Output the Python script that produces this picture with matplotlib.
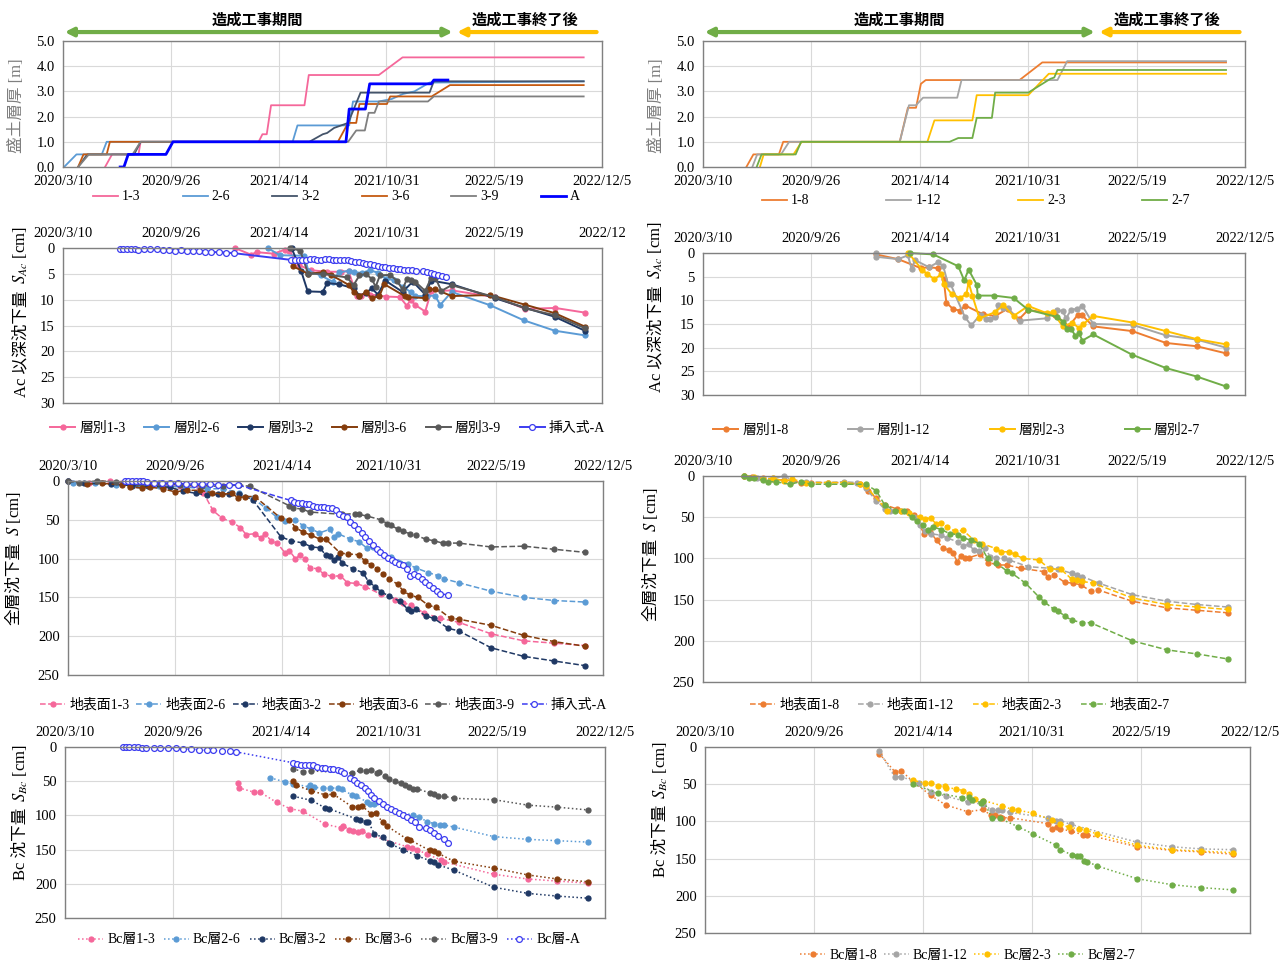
import datetime as dt
import matplotlib
matplotlib.use("Agg")
import matplotlib.pyplot as plt
from matplotlib.ticker import FormatStrFormatter
import numpy as np

plt.rcParams['font.family'] = ['Liberation Serif', 'Noto Sans CJK JP']
plt.rcParams['mathtext.fontset'] = 'stix'

W, H = 1287, 961
start = dt.date(2020, 3, 10)
tick_days = [0, 200, 400, 600, 800, 1000]
tick_labels = []
for d in tick_days:
    t = start + dt.timedelta(days=d)
    tick_labels.append(f"{t.year}/{t.month}/{t.day}")
construction_end = 723   # days after 2020/3/10

# ---- fill thickness [m]  (day, value) ----
fill_13 = [(78,0),(91,0.5),(140,0.5),(144,1.0),(363,1.0),(370,1.3),(378,1.3),(386,2.45),(448,2.45),(456,3.65),(586,3.65),(630,4.35),(966,4.35)]
fill_26 = [(2,0),(25,0.5),(72,0.5),(81,1.0),(426,1.0),(435,1.65),(531,1.65),(538,2.6),(586,2.6),(610,2.7),(631,2.9),(652,3.0),(680,3.35),(966,3.4)]
fill_32 = [(28,0),(45,0.5),(132,0.5),(144,1.0),(457,1.0),(482,1.3),(490,1.35),(503,1.55),(529,1.75),(552,2.95),(680,2.95),(688,3.4),(966,3.4)]
fill_36 = [(28,0),(38,0.5),(81,0.5),(87,1.0),(510,1.0),(529,1.75),(544,1.75),(550,2.5),(601,2.5),(607,2.8),(684,2.8),(718,3.25),(966,3.25)]
fill_39 = [(28,0),(48,0.5),(129,0.5),(144,1.0),(529,1.0),(544,1.45),(560,1.45),(567,2.15),(578,2.15),(586,2.6),(677,2.6),(688,2.8),(966,2.8)]
fill_A = [(106,0),(113,0),(121,0.5),(191,0.5),(204,1.0),(525,1.0),(531,2.3),(561,2.3),(569,3.3),(683,3.3),(688,3.45),(714,3.45)]
fill_18 = [(80,0),(93,0.5),(140,0.5),(148,1.0),(363,1.0),(378,2.35),(393,2.35),(402,3.3),(411,3.45),(584,3.45),(626,4.15),(965,4.15)]
fill_112 = [(91,0),(100,0.5),(144,0.5),(159,1.0),(363,1.0),(380,2.45),(393,2.45),(406,2.75),(469,2.75),(477,3.45),(654,3.45),(672,4.2),(965,4.2)]
fill_23 = [(105,0),(112,0.5),(167,0.5),(182,1.0),(414,1.0),(427,1.85),(497,1.85),(505,2.85),(600,2.85),(638,3.7),(965,3.7)]
fill_27 = [(99,0),(108,0.5),(171,0.5),(181,1.0),(455,1.0),(471,1.15),(497,1.15),(505,1.95),(533,1.95),(539,2.95),(600,2.95),(641,3.5),(648,3.55),(654,3.85),(965,3.85)]

# ---- settlement below Ac [cm] ----
ac_13 = [(319,0.0),(349,1.3),(359,0.8),(391,1.1),(412,0.3),(420,0.6),(437,3.3),(460,4.3),(490,4.6),(515,4.6),(530,4.5),(545,9.3),(553,9.2),(570,9.0),(600,9.4),(625,9.5),(638,11.2),(645,10.0),(653,11.0),(672,12.3),(683,8.4),(721,8.2),(801,9.5),(858,11.8),(913,11.6),(968,12.5)]
ac_26 = [(380,0.0),(402,1.4),(448,1.5),(455,4.4),(478,5.3),(500,6.5),(512,4.7),(531,4.4),(539,4.7),(555,4.8),(569,4.3),(585,4.8),(600,6.0),(615,6.2),(630,7.5),(645,8.5),(653,9.3),(675,9.3),(690,9.2),(700,11.0),(721,8.5),(793,11.1),(855,14.0),(912,16.0),(968,16.9)]
ac_32 = [(424,0.0),(442,4.5),(454,8.4),(482,8.5),(490,6.8),(512,7.0),(539,7.8),(550,9.2),(562,8.7),(573,7.8),(584,9.0),(598,6.3),(630,8.5),(649,6.5),(672,9.0),(683,6.3),(721,7.0),(801,9.7),(858,11.6),(912,13.3),(968,16.0)]
ac_36 = [(426,3.5),(455,5.0),(482,4.7),(497,5.2),(531,7.2),(539,8.5),(550,9.3),(562,8.6),(573,9.7),(587,9.3),(596,7.0),(634,9.3),(641,9.5),(672,9.7),(679,8.0),(691,8.0),(721,9.3),(793,9.1),(858,11.0),(912,12.6),(968,15.2)]
ac_39 = [(421,0.0),(440,0.5),(455,5.0),(482,5.0),(527,5.7),(539,7.2),(550,5.3),(562,5.0),(573,6.0),(580,7.5),(588,5.3),(607,5.2),(619,6.3),(630,8.0),(638,6.0),(645,6.2),(653,6.5),(672,8.3),(683,5.8),(691,5.8),(702,8.3),(721,7.2),(801,9.5),(858,11.7),(912,13.0),(968,15.5)]
ac_A = [(105,0.1),(112,0.1),(119,0.1),(126,0.2),(133,0.2),(140,0.3),(150,0.2),(162,0.2),(175,0.2),(186,0.3),(197,0.3),(208,0.5),(219,0.4),(230,0.5),(241,0.6),(252,0.6),(263,0.7),(275,0.8),(290,0.8),(303,0.9),(317,1.0),
        (423,2.3),(430,2.3),(437,2.3),(444,2.3),(451,2.3),(458,2.2),(465,2.2),(472,2.3),(479,2.3),(486,2.2),(493,2.2),(500,2.3),(507,2.4),(514,2.3),(521,2.3),(528,2.4),(535,2.5),(542,2.7),(549,2.8),(556,2.9),(563,3.0),(570,3.1),(577,3.3),(584,3.5),(591,3.6),(598,3.7),(605,3.8),(612,3.9),(619,4.0),(626,4.1),(633,4.2),(640,4.3),(647,4.3),(654,4.5),(668,4.5),(675,4.6),(682,4.8),(689,5.0),(696,5.2),(703,5.4),(710,5.6)]
ac_18 = [(319,0.3),(360,1.3),(402,3.2),(417,3.0),(433,3.2),(444,5.5),(449,10.5),(461,11.8),(474,12.2),(484,11.1),(516,12.9),(539,13.3),(562,11.8),(583,14.0),(600,12.0),(649,13.0),(675,15.5),(692,13.0),(700,13.2),(720,15.5),(792,16.5),(854,19.0),(911,19.7),(965,21.2)]
ac_112 = [(319,0.0),(320,0.8),(360,1.3),(378,0.5),(385,3.4),(391,1.5),(417,3.0),(433,2.0),(443,2.7),(452,6.5),(457,6.6),(483,13.5),(495,15.3),(512,13.0),(522,14.0),(530,14.0),(539,13.5),(545,11.0),(554,11.7),(562,11.6),(584,14.3),(634,13.8),(653,12.0),(664,12.3),(670,13.8),(679,12.0),(690,11.8),(700,11.2),(720,15.0),(793,15.2),(854,17.4),(911,18.3),(965,20.0)]
ac_23 = [(379,0.0),(404,3.5),(414,4.5),(427,5.5),(440,4.5),(444,6.5),(459,8.7),(474,9.5),(486,8.7),(490,6.2),(497,9.0),(510,13.8),(539,12.5),(554,11.0),(573,13.3),(600,11.2),(634,12.7),(645,12.5),(664,15.5),(681,14.8),(694,15.8),(702,15.0),(720,13.3),(793,14.7),(854,16.5),(911,18.2),(965,19.3)]
ac_27 = [(381,0.0),(425,0.3),(471,2.8),(482,5.8),(490,3.5),(505,6.7),(507,9.0),(537,9.0),(573,9.5),(600,12.0),(653,13.5),(664,14.5),(672,16.0),(679,16.0),(687,17.5),(694,17.0),(700,18.5),(720,17.2),(792,21.5),(854,24.3),(911,26.1),(965,28.2)]

# ---- total settlement S [cm] ----
s_13 = [(0,0),(40,2),(78,0),(100,3),(140,4),(180,6),(210,7),(245,8),(253,15),(271,38),(288,48),(307,53),(322,60),(333,69),(349,68),(360,73),(369,68),(379,77),(391,80),(406,93),(414,90),(425,100),(433,96),(443,100),(452,112),(467,113),(478,120),(494,123),(509,122),(522,131),(539,132),(555,136),(585,146),(612,153),(627,157),(642,160),(665,170),(696,177),(730,182),(791,197),(852,206),(909,209),(967,212)]
s_26 = [(0,0),(10,2),(50,3),(90,5),(130,5),(170,6),(220,8),(260,10),(290,10),(320,15),(345,22),(370,35),(391,47),(406,52),(425,50),(440,58),(455,62),(470,67),(490,62),(497,72),(505,68),(528,75),(543,78),(558,86),(570,85),(604,98),(635,107),(650,112),(673,118),(692,122),(703,126),(730,131),(791,142),(852,150),(909,154),(967,156)]
s_32 = [(0,0),(30,3),(80,4),(120,6),(150,7),(190,8),(215,13),(240,16),(260,18),(280,17),(300,17),(320,17),(345,24),(398,72),(417,77),(440,80),(455,85),(471,86),(482,96),(490,97),(497,102),(505,98),(513,106),(532,113),(551,118),(562,130),(574,136),(585,143),(600,148),(620,155),(635,165),(642,168),(650,165),(669,174),(684,177),(711,190),(730,193),(791,215),(852,226),(909,232),(967,238)]
s_36 = [(36,4),(63,3),(100,5),(116,8),(139,9),(154,8),(177,10),(200,14),(222,12),(246,12),(269,15),(288,17),(307,16),(318,22),(330,20),(349,20),(398,48),(414,50),(425,60),(440,66),(455,70),(471,75),(482,75),(509,93),(524,94),(543,95),(555,103),(566,108),(578,113),(589,120),(600,126),(616,133),(627,142),(639,147),(654,150),(673,160),(688,163),(715,177),(730,178),(791,186),(852,199),(909,207),(967,213)]
s_39 = [(0,0),(20,2),(55,0),(90,1),(130,2),(170,3),(210,5),(250,6),(290,7),(320,5),(340,7),(414,32),(421,35),(437,36),(452,40),(513,43),(536,42),(543,43),(558,45),(585,50),(597,55),(604,57),(616,62),(627,65),(639,68),(650,70),(669,75),(684,77),(700,80),(711,80),(730,80),(791,85),(852,84),(909,88),(967,92)]
s_A = [(107,0),(113,0),(120,0),(127,0),(134,0),(141,0),(148,1),(160,2),(175,2),(190,3),(205,3),(220,4),(235,4),(250,4),(265,4),(280,5),(300,5),(318,5),
       (416,25),(423,27),(430,28),(437,28),(444,29),(451,30),(458,32),(465,33),(472,34),(479,34),(486,35),(493,35),(500,38),(507,42),(514,45),(521,47),(528,53),(535,57),(542,62),(549,67),(556,72),(563,77),(570,83),(577,88),(584,92),(591,96),(598,99),(605,102),(612,105),(619,107),(626,108),(633,113),(640,122),(647,120),(654,122),(661,126),(668,130),(675,134),(682,138),(689,142),(696,145),(710,147)]
s_18 = [(76,0),(90,1),(110,2),(130,4),(150,5),(165,6),(180,8),(200,8),(230,8),(260,8),(290,10),(305,18),(320,27),(335,35),(358,40),(377,42),(389,47),(408,70),(419,68),(431,78),(442,87),(453,90),(461,93),(469,104),(476,97),(484,100),(491,99),(511,95),(526,105),(545,108),(560,108),(587,112),(629,116),(636,123),(648,120),(667,129),(682,130),(697,132),(716,140),(728,138),(792,152),(856,160),(912,163),(968,166)]
s_112 = [(76,0),(100,2),(130,3),(150,0),(165,5),(190,7),(230,8),(260,7),(285,8),(300,15),(320,30),(335,40),(345,43),(365,42),(390,50),(400,60),(410,67),(420,70),(440,72),(450,75),(470,80),(480,85),(490,83),(500,90),(510,91),(520,87),(530,98),(540,99),(555,100),(565,102),(600,110),(640,112),(655,113),(680,118),(690,120),(700,122),(730,130),(792,144),(856,152),(912,156),(968,159)]
s_23 = [(76,0),(95,1),(110,4),(130,3),(150,6),(165,4),(190,8),(230,8),(260,8),(290,10),(300,12),(340,42),(365,42),(380,45),(400,50),(410,52),(420,51),(430,58),(440,57),(450,62),(465,67),(480,66),(500,78),(515,82),(540,88),(550,92),(565,92),(575,95),(590,100),(620,102),(640,113),(660,113),(680,125),(690,126),(700,128),(720,130),(792,148),(856,156),(912,159),(968,162)]
s_27 = [(76,0),(85,2),(95,3),(110,5),(120,7),(135,7),(160,10),(180,7),(200,10),(230,10),(260,10),(300,10),(320,18),(335,35),(355,42),(370,42),(385,50),(395,55),(405,60),(415,65),(425,62),(440,65),(455,70),(470,71),(480,75),(495,78),(510,82),(525,100),(540,105),(560,115),(570,118),(595,130),(620,147),(630,153),(648,162),(655,164),(668,170),(680,175),(700,178),(715,178),(792,200),(856,211),(912,216),(968,222)]

# ---- Bc settlement [cm] ----
bc_13 = [(320,53),(323,60),(350,66),(361,66),(392,81),(416,90),(441,94),(482,113),(511,118),(515,115),(526,121),(534,123),(543,124),(550,123),(562,128),(634,146),(643,148),(652,150),(671,157),(696,165),(702,168),(794,186),(857,193),(912,196),(968,199)]
bc_26 = [(380,45),(407,51),(422,54),(451,58),(454,56),(462,59),(477,60),(490,60),(505,60),(513,62),(531,70),(539,72),(559,80),(565,84),(573,83),(645,100),(656,103),(671,109),(683,112),(694,114),(702,114),(720,117),(794,131),(857,135),(912,137),(968,139)]
bc_32 = [(423,72),(456,78),(482,89),(488,90),(539,105),(547,107),(558,110),(562,110),(573,127),(588,132),(600,140),(603,142),(626,150),(652,159),(675,166),(683,168),(690,172),(720,180),(794,205),(857,214),(912,218),(968,221)]
bc_36 = [(422,49),(428,56),(456,64),(482,70),(497,69),(531,87),(543,87),(550,86),(567,98),(575,96),(588,110),(597,116),(634,135),(639,136),(675,151),(683,152),(690,155),(720,167),(794,177),(857,187),(912,193),(968,197)]
bc_39 = [(422,32),(441,36),(456,35),(531,38),(547,34),(558,35),(567,34),(577,38),(581,37),(592,43),(600,47),(611,50),(622,53),(630,55),(637,59),(645,62),(652,61),(675,67),(683,68),(690,72),(702,72),(720,75),(794,77),(857,85),(912,88),(968,92)]
bc_A = [(107,0),(113,0),(119,0),(127,0),(135,0),(142,1),(150,1),(165,1),(176,1),(191,2),(206,2),(219,3),(233,3),(248,4),(263,5),(274,5),(290,6),(305,6),(316,7),
        (422,23),(429,25),(437,26),(444,26),(452,26),(460,27),(467,29),(475,30),(482,31),(490,32),(497,32),(505,33),(511,35),(516,38),(528,45),(535,48),(541,52),(549,56),(556,60),(562,65),(567,70),(573,74),(581,79),(588,84),(596,87),(603,90),(611,93),(618,97),(626,100),(634,103),(641,106),(649,109),(655,117),(668,119),(675,122),(683,126),(690,130),(702,135),(709,140)]
bc_18 = [(320,9),(348,33),(360,32),(381,46),(414,65),(442,78),(482,87),(511,84),(524,92),(532,91),(541,94),(545,95),(559,95),(629,103),(636,110),(645,107),(652,110),(671,113),(694,118),(701,118),(793,134),(856,139),(911,141),(968,144)]
bc_112 = [(320,6),(348,40),(360,40),(392,48),(415,60),(442,66),(482,74),(511,77),(526,85),(537,85),(545,85),(559,88),(629,95),(644,99),(652,99),(671,104),(793,128),(856,134),(911,137),(968,138)]
bc_23 = [(381,45),(404,48),(415,48),(427,52),(440,53),(442,55),(461,56),(474,59),(484,63),(495,70),(511,72),(545,79),(564,84),(575,85),(602,89),(636,98),(652,103),(667,108),(687,110),(699,112),(720,117),(793,132),(856,138),(911,140),(968,142)]
bc_27 = [(381,50),(427,62),(472,68),(484,67),(490,71),(507,75),(511,72),(526,95),(541,96),(574,107),(602,117),(644,132),(652,138),(673,145),(682,146),(688,147),(696,153),(701,154),(720,160),(793,177),(856,185),(911,189),(968,192)]

PINK, LBLUE, NAVY, BROWN, DGRAY, BLUE = '#F5679A', '#5B9BD5', '#1F3864', '#843C0C', '#595959', '#3C3CF0'
ORANGE, LGRAY, YELLOW, GREEN = '#ED7D31', '#A5A5A5', '#FFC000', '#70AD47'

fig = plt.figure(figsize=(W / 100, H / 100), dpi=100)


def axes_px(x0, y0, x1, y1):
    return fig.add_axes([x0 / W, 1 - y1 / H, (x1 - x0) / W, (y1 - y0) / H])


def setup(ax, ymax, ystep, fmt, top=True, xlabels=tick_labels):
    ax.set_xlim(0, 1000)
    ax.set_xticks(tick_days)
    ax.set_xticklabels(xlabels)
    ax.set_yticks(np.arange(0, ymax + ystep / 2, ystep))
    ax.yaxis.set_major_formatter(FormatStrFormatter(fmt))
    if top:
        ax.set_ylim(ymax, 0)
        ax.xaxis.tick_top()
    else:
        ax.set_ylim(0, ymax)
    ax.grid(True, color='#D9D9D9', lw=0.8)
    ax.set_axisbelow(True)
    ax.tick_params(length=0, labelsize=10.5, pad=6)
    for s in ax.spines.values():
        s.set_color('#808080')
        s.set_linewidth(1.0)


def draw(ax, series, ls, lw, marker):
    for pts, label, color, hollow in series:
        d, v = np.array(pts, dtype=float).T
        kw = dict(ls=ls, lw=lw, color=color, label=label, clip_on=False)
        if marker:
            kw.update(marker='o', ms=4.2 if hollow else 3.6,
                      mfc='white' if hollow else color, mec=color, mew=0.9)
        ax.plot(d, v, **kw)


def legend(ax, x0, x1, y, ncol):
    ax.legend(loc='center', bbox_to_anchor=(x0 / W, 1 - y / H, (x1 - x0) / W, 0),
              bbox_transform=fig.transFigure, ncol=ncol, mode='expand', frameon=False,
              fontsize=10, handlelength=1.8, handletextpad=0.3, borderaxespad=0, borderpad=0)


def ylabel(x, ysplit, jp, math=None, color='black', size=12):
    if math is None:
        fig.text(x / W, 1 - ysplit / H, jp, rotation=90, ha='center', va='center',
                 color=color, fontsize=size)
        return
    fig.text(x / W, 1 - ysplit / H, jp, rotation=90, ha='center', va='top', color=color, fontsize=size)
    fig.text(x / W, 1 - (ysplit - 6) / H, math, rotation=90, ha='center', va='bottom', color=color, fontsize=size)


def header(ax):
    tr = ax.get_xaxis_transform()
    ax.annotate('', xy=(3, 1.071), xytext=(construction_end, 1.071), xycoords=tr, textcoords=tr,
                arrowprops=dict(arrowstyle='<|-|>', color=GREEN, lw=3, mutation_scale=12,
                                shrinkA=0, shrinkB=0), annotation_clip=False)
    ax.annotate('', xy=(construction_end + 8, 1.071), xytext=(990, 1.071), xycoords=tr, textcoords=tr,
                arrowprops=dict(arrowstyle='-|>', color=YELLOW, lw=3, mutation_scale=12,
                                shrinkA=0, shrinkB=0), annotation_clip=False)
    ax.text(construction_end / 2, 1.167, '造成工事期間', transform=tr, ha='center', va='center',
            fontsize=11, fontweight='bold', family='Noto Sans CJK JP')
    ax.text((construction_end + 990) / 2, 1.167, '造成工事終了後', transform=tr, ha='center', va='center',
            fontsize=11, fontweight='bold', family='Noto Sans CJK JP')


# ---------- row 1: fill thickness ----------
ax = axes_px(63, 41, 602, 167)
setup(ax, 5, 1, '%.1f', top=False)
for pts, lab, col, lw in [(fill_13, '1-3', PINK, 1.3), (fill_26, '2-6', LBLUE, 1.3), (fill_32, '3-2', '#44546A', 1.3),
                          (fill_36, '3-6', '#C55A11', 1.3), (fill_39, '3-9', '#7F7F7F', 1.3), (fill_A, 'A', '#0000FF', 2.0)]:
    d, v = np.array(pts, dtype=float).T
    ax.plot(d, v, color=col, lw=lw, label=lab)
header(ax)
legend(ax, 93, 580, 197, 6)

ax = axes_px(703, 41, 1245, 167)
setup(ax, 5, 1, '%.1f', top=False)
for pts, lab, col in [(fill_18, '1-8', ORANGE), (fill_112, '1-12', LGRAY), (fill_23, '2-3', YELLOW), (fill_27, '2-7', GREEN)]:
    d, v = np.array(pts, dtype=float).T
    ax.plot(d, v, color=col, lw=1.3, label=lab)
header(ax)
legend(ax, 762, 1190, 201, 4)

ylabel(17, 106, '盛土層厚 [m]', color='#7F7F7F')
ylabel(657, 106, '盛土層厚 [m]', color='#7F7F7F')

# ---------- row 2: settlement below Ac ----------
ax = axes_px(63, 248, 602, 403)
setup(ax, 30, 5, '%d', xlabels=tick_labels[:-1] + ['2022/12'])
draw(ax, [(ac_13, '層別1-3', PINK, False), (ac_26, '層別2-6', LBLUE, False), (ac_32, '層別3-2', NAVY, False),
          (ac_36, '層別3-6', BROWN, False), (ac_39, '層別3-9', DGRAY, False), (ac_A, '挿入式-A', BLUE, True)],
     '-', 1.4, True)
legend(ax, 50, 605, 428, 6)

ax = axes_px(703, 253, 1245, 395)
setup(ax, 30, 5, '%d')
draw(ax, [(ac_18, '層別1-8', ORANGE, False), (ac_112, '層別1-12', LGRAY, False),
          (ac_23, '層別2-3', YELLOW, False), (ac_27, '層別2-7', GREEN, False)], '-', 1.4, True)
legend(ax, 713, 1200, 430, 4)

ylabel(21, 290, 'Ac 以深沈下量', r'$S_{Ac}$ [cm]')
ylabel(656, 285, 'Ac 以深沈下量', r'$S_{Ac}$ [cm]')

# ---------- row 3: total settlement ----------
ax = axes_px(68, 481, 603, 675)
setup(ax, 250, 50, '%d')
draw(ax, [(s_13, '地表面1-3', PINK, False), (s_26, '地表面2-6', LBLUE, False), (s_32, '地表面3-2', NAVY, False),
          (s_36, '地表面3-6', BROWN, False), (s_39, '地表面3-9', DGRAY, False), (s_A, '挿入式-A', BLUE, True)],
     '--', 1.1, True)
legend(ax, 40, 607, 705, 6)

ax = axes_px(703, 476, 1245, 682)
setup(ax, 250, 50, '%d')
draw(ax, [(s_18, '地表面1-8', ORANGE, False), (s_112, '地表面1-12', LGRAY, False),
          (s_23, '地表面2-3', YELLOW, False), (s_27, '地表面2-7', GREEN, False)], '--', 1.1, True)
legend(ax, 750, 1170, 705, 4)

ylabel(14, 542, '全層沈下量', r'$S$ [cm]')
ylabel(651, 538, '全層沈下量', r'$S$ [cm]')

# ---------- row 4: Bc settlement ----------
ax = axes_px(65, 747, 605, 918)
setup(ax, 250, 50, '%d')
draw(ax, [(bc_13, 'Bc層1-3', PINK, False), (bc_26, 'Bc層2-6', LBLUE, False), (bc_32, 'Bc層3-2', NAVY, False),
          (bc_36, 'Bc層3-6', BROWN, False), (bc_39, 'Bc層3-9', DGRAY, False), (bc_A, 'Bc層-A', BLUE, True)],
     ':', 1.1, True)
legend(ax, 78, 580, 940, 6)

ax = axes_px(705, 747, 1250, 933)
setup(ax, 250, 50, '%d')
draw(ax, [(bc_18, 'Bc層1-8', ORANGE, False), (bc_112, 'Bc層1-12', LGRAY, False),
          (bc_23, 'Bc層2-3', YELLOW, False), (bc_27, 'Bc層2-7', GREEN, False)], ':', 1.1, True)
legend(ax, 800, 1135, 955, 4)

ylabel(21, 808, 'Bc 沈下量', r'$S_{Bc}$ [cm]')
ylabel(661, 805, 'Bc 沈下量', r'$S_{Bc}$ [cm]')

fig.savefig('out.png', dpi=100)
